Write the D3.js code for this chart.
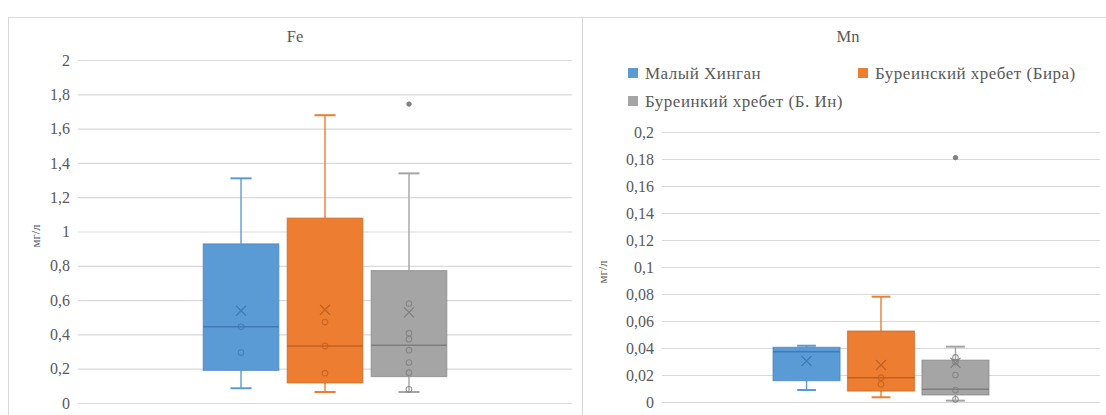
<!DOCTYPE html>
<html><head><meta charset="utf-8">
<script src="https://cdn.jsdelivr.net/npm/d3@7"></script>
<style>
html,body{margin:0;padding:0;background:#fff;}
svg text{font-family:"Liberation Serif","Times New Roman","DejaVu Serif",serif !important;}
</style></head>
<body>
<svg id="chart" width="1106" height="415"></svg>
<script>
const series = ["Малый Хинган", "Буреинский хребет (Бира)", "Буреинкий хребет (Б. Ин)"];
const colors = ["#5b9bd5", "#ed7d31", "#a5a5a5"];
const darkColors = ["#3f7cb5", "#c2621e", "#7f7f7f"];

const feTicks = [0, 0.2, 0.4, 0.6, 0.8, 1, 1.2, 1.4, 1.6, 1.8, 2];
const feMin = [0.086, 0.064, 0.064];
const feQ1 = [0.19, 0.117, 0.154];
const feMed = [0.444, 0.333, 0.337];
const feQ3 = [0.928, 1.078, 0.772];
const feMax = [1.31, 1.678, 1.339];
const feMean = [0.538, 0.544, 0.528];
const fePoints = [[0.444, 0.294], [0.472, 0.333, 0.174], [0.58, 0.407, 0.372, 0.308, 0.236, 0.177, 0.08]];
const feOutliers = [[], [], [1.743]];

const mnTicks = [0, 0.02, 0.04, 0.06, 0.08, 0.1, 0.12, 0.14, 0.16, 0.18, 0.2];
const mnMin = [0.0089, 0.0035, 0.001];
const mnQ1 = [0.0158, 0.0081, 0.0052];
const mnMed = [0.0373, 0.018, 0.0094];
const mnQ3 = [0.0405, 0.0526, 0.031];
const mnMax = [0.0417, 0.078, 0.041];
const mnMean = [0.0304, 0.0274, 0.029];
const mnPoints = [[], [0.018, 0.0131], [0.033, 0.0296, 0.02, 0.0089, 0.002]];
const mnOutliers = [[], [], [0.181]];

const svg = d3.select("#chart");
const fmt = v => String(v).replace(".", ",");
const textCol = "#595959";
const gridCol = "#d9d9d9";

// frames
svg.append("rect").attr("x", 8.5).attr("y", 17.5).attr("width", 574).attr("height", 420)
  .attr("fill", "#fff").attr("stroke", gridCol);
svg.append("rect").attr("x", 582.5).attr("y", 17.5).attr("width", 540).attr("height", 420)
  .attr("fill", "#fff").attr("stroke", gridCol);

function drawPanel(cfg) {
  const g = svg.append("g");
  const y = d3.scaleLinear().domain([0, cfg.ticks[cfg.ticks.length - 1]]).range([cfg.bottom, cfg.top]);
  const xCat = d3.scaleBand().domain(["c"]).range([cfg.left, cfg.right]).padding(0.3245);
  const x = d3.scaleBand().domain(series)
    .range([xCat("c"), xCat("c") + xCat.bandwidth()]).paddingInner(0.1).paddingOuter(0.05);

  // grid
  const axis = d3.axisLeft(y).tickValues(cfg.ticks).tickFormat(fmt)
    .tickSize(-(cfg.right - cfg.left)).tickPadding(8);
  const ag = g.append("g").attr("transform", `translate(${cfg.left},0)`).call(axis);
  ag.select(".domain").remove();
  ag.selectAll(".tick line").attr("stroke", gridCol).attr("stroke-width", 1.2);
  ag.selectAll(".tick text").attr("fill", textCol).attr("font-size", 16);

  // title
  g.append("text").attr("x", cfg.titleX).attr("y", 42).attr("text-anchor", "middle")
    .attr("font-size", 16.5).attr("fill", textCol).text(cfg.title);
  // axis title
  g.append("text").attr("transform", `translate(${cfg.ytX},${cfg.ytY}) rotate(-90)`)
    .attr("text-anchor", "middle").attr("font-size", 12.5).attr("fill", textCol).text("мг/л");

  const bw = x.bandwidth();
  const cap = bw * 0.28;
  series.forEach((s, i) => {
    const cx = x(s) + bw / 2;
    const bg = g.append("g");
    // whiskers
    bg.append("line").attr("x1", cx).attr("x2", cx).attr("y1", y(cfg.q3[i])).attr("y2", y(cfg.max[i]))
      .attr("stroke", colors[i]).attr("stroke-width", 1.4);
    bg.append("line").attr("x1", cx).attr("x2", cx).attr("y1", y(cfg.q1[i])).attr("y2", y(cfg.min[i]))
      .attr("stroke", colors[i]).attr("stroke-width", 1.4);
    bg.append("line").attr("x1", cx - cap / 2).attr("x2", cx + cap / 2).attr("y1", y(cfg.max[i])).attr("y2", y(cfg.max[i]))
      .attr("stroke", colors[i]).attr("stroke-width", 2);
    bg.append("line").attr("x1", cx - cap / 2).attr("x2", cx + cap / 2).attr("y1", y(cfg.min[i])).attr("y2", y(cfg.min[i]))
      .attr("stroke", colors[i]).attr("stroke-width", 2);
    // box
    bg.append("rect").attr("x", x(s)).attr("width", bw)
      .attr("y", y(cfg.q3[i])).attr("height", y(cfg.q1[i]) - y(cfg.q3[i]))
      .attr("fill", colors[i]).attr("stroke", darkColors[i]).attr("stroke-opacity", 0.6).attr("stroke-width", 1.2);
    // median
    bg.append("line").attr("x1", x(s)).attr("x2", x(s) + bw).attr("y1", y(cfg.med[i])).attr("y2", y(cfg.med[i]))
      .attr("stroke", darkColors[i]).attr("stroke-width", 1.5);
    // inner points
    cfg.points[i].forEach(p => {
      bg.append("circle").attr("cx", cx).attr("cy", y(p)).attr("r", 2.8)
        .attr("fill", "none").attr("stroke", darkColors[i]).attr("stroke-opacity", 0.8).attr("stroke-width", 1.1);
    });
    // outliers
    cfg.outliers[i].forEach(p => {
      bg.append("circle").attr("cx", cx).attr("cy", y(p)).attr("r", 2.2)
        .attr("fill", "#7f7f7f").attr("stroke", "#7f7f7f");
    });
    // mean X
    const my = y(cfg.mean[i]), m = 5;
    bg.append("path").attr("d", `M${cx - m},${my - m}L${cx + m},${my + m}M${cx - m},${my + m}L${cx + m},${my - m}`)
      .attr("stroke", darkColors[i]).attr("stroke-width", 1.2).attr("fill", "none");
  });
}

drawPanel({title: "Fe", titleX: 295, left: 78, right: 572, top: 60, bottom: 403,
  ytX: 40, ytY: 236, ticks: feTicks, min: feMin, q1: feQ1, med: feMed, q3: feQ3, max: feMax,
  mean: feMean, points: fePoints, outliers: feOutliers});
drawPanel({title: "Mn", titleX: 848, left: 662, right: 1100, top: 132, bottom: 402,
  ytX: 607, ytY: 272, ticks: mnTicks, min: mnMin, q1: mnQ1, med: mnMed, q3: mnQ3, max: mnMax,
  mean: mnMean, points: mnPoints, outliers: mnOutliers});

// legend
const legendPos = [[628, 73], [858, 73], [628, 101]];
const lg = svg.append("g");
series.forEach((s, i) => {
  const [lx, ly] = legendPos[i];
  lg.append("rect").attr("x", lx).attr("y", ly - 5).attr("width", 10).attr("height", 10).attr("fill", colors[i]);
  lg.append("text").attr("x", lx + 17).attr("y", ly + 5.5).attr("font-size", 17)
    .attr("letter-spacing", 0.5).attr("fill", textCol).text(s);
});
</script>
</body></html>
